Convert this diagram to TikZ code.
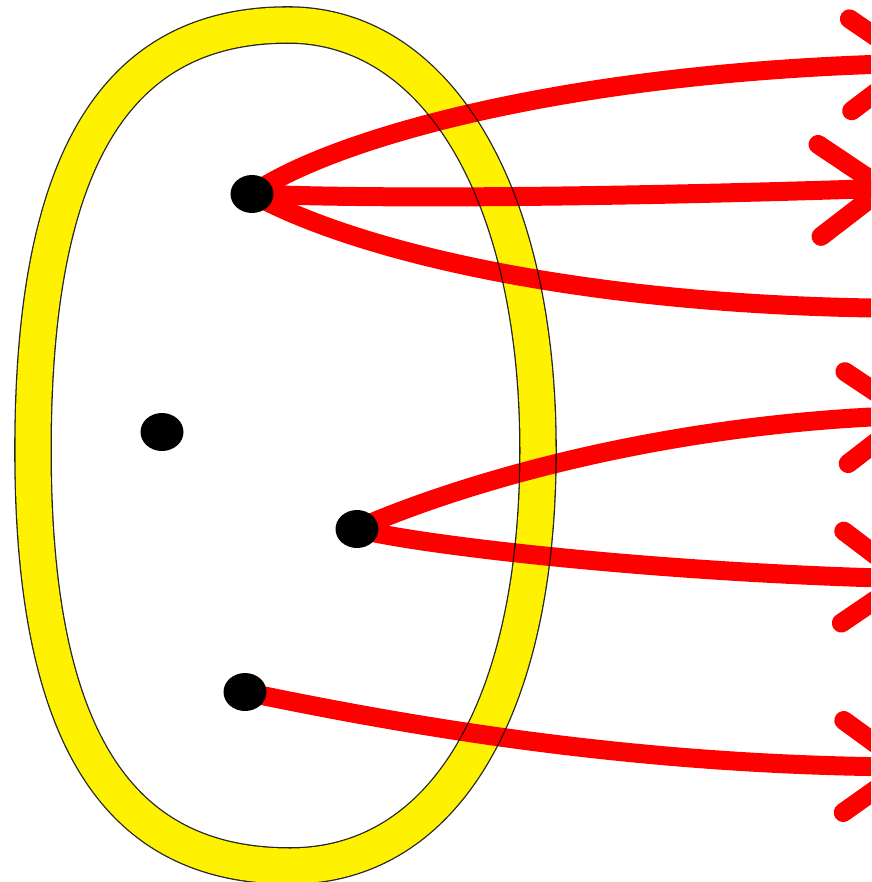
\documentclass[tikz,border=0pt]{standalone}
\usepackage{tikz}
\usetikzlibrary{arrows.meta,shapes.geometric}

\begin{document}
\begin{tikzpicture}[
  x=1pt, y=-1pt,
  band/.style={
    draw=black!85, line width=1.3pt, double=yellow, double distance=35pt
  },
  dotnode/.style={
    ellipse, fill=black, draw=none, inner sep=0pt,
    minimum width=43pt, minimum height=38pt
  },
  arr/.style={
    line width=19pt, red, line cap=round,
    -{Straight Barb[length=64pt, width=92pt, line cap=round, line join=round]}
  }
]
\useasboundingbox (0,0) rectangle (871,882);
\clip (0,0) rectangle (871,882);

% --- yellow band
\draw[band] (288,25) .. controls (438,25) and (538,195) .. (538,450)
  .. controls (538,708) and (444,866) .. (290,866)
  .. controls (115,866) and (33,733) .. (33,450)
  .. controls (33,161) and (115,25) .. (288,25) -- cycle;

% --- points
\node[dotnode] (pa) at (252,194) {};
\node[dotnode] (pb) at (162,432) {};
\node[dotnode] (pc) at (357,529) {};
\node[dotnode] (pd) at (245,692) {};

% --- arrow ends, past the right edge
\coordinate (ta1) at (924,63);
\coordinate (ta2) at (893,188);
\coordinate (ta3) at (970,308);
\coordinate (tc1) at (920,415);
\coordinate (tc2) at (916,579);
\coordinate (td1) at (917,767);

% --- arrows
\begin{scope}[blend mode=multiply]
\draw[arr] (pa.center) .. controls (330,140) and (560,72) .. (ta1);
\draw[arr] (pa.center) .. controls (400,200) and (650,196) .. (ta2);
\draw[arr] (pa.center) .. controls (370,258) and (620,312) .. (ta3);
\draw[arr] (pc.center) .. controls (440,492) and (640,425) .. (tc1);
\draw[arr] (pc.center) .. controls (420,545) and (650,572) .. (tc2);
\draw[arr] (pd.center) .. controls (390,722) and (620,765) .. (td1);
\end{scope}

\end{tikzpicture}
\end{document}
